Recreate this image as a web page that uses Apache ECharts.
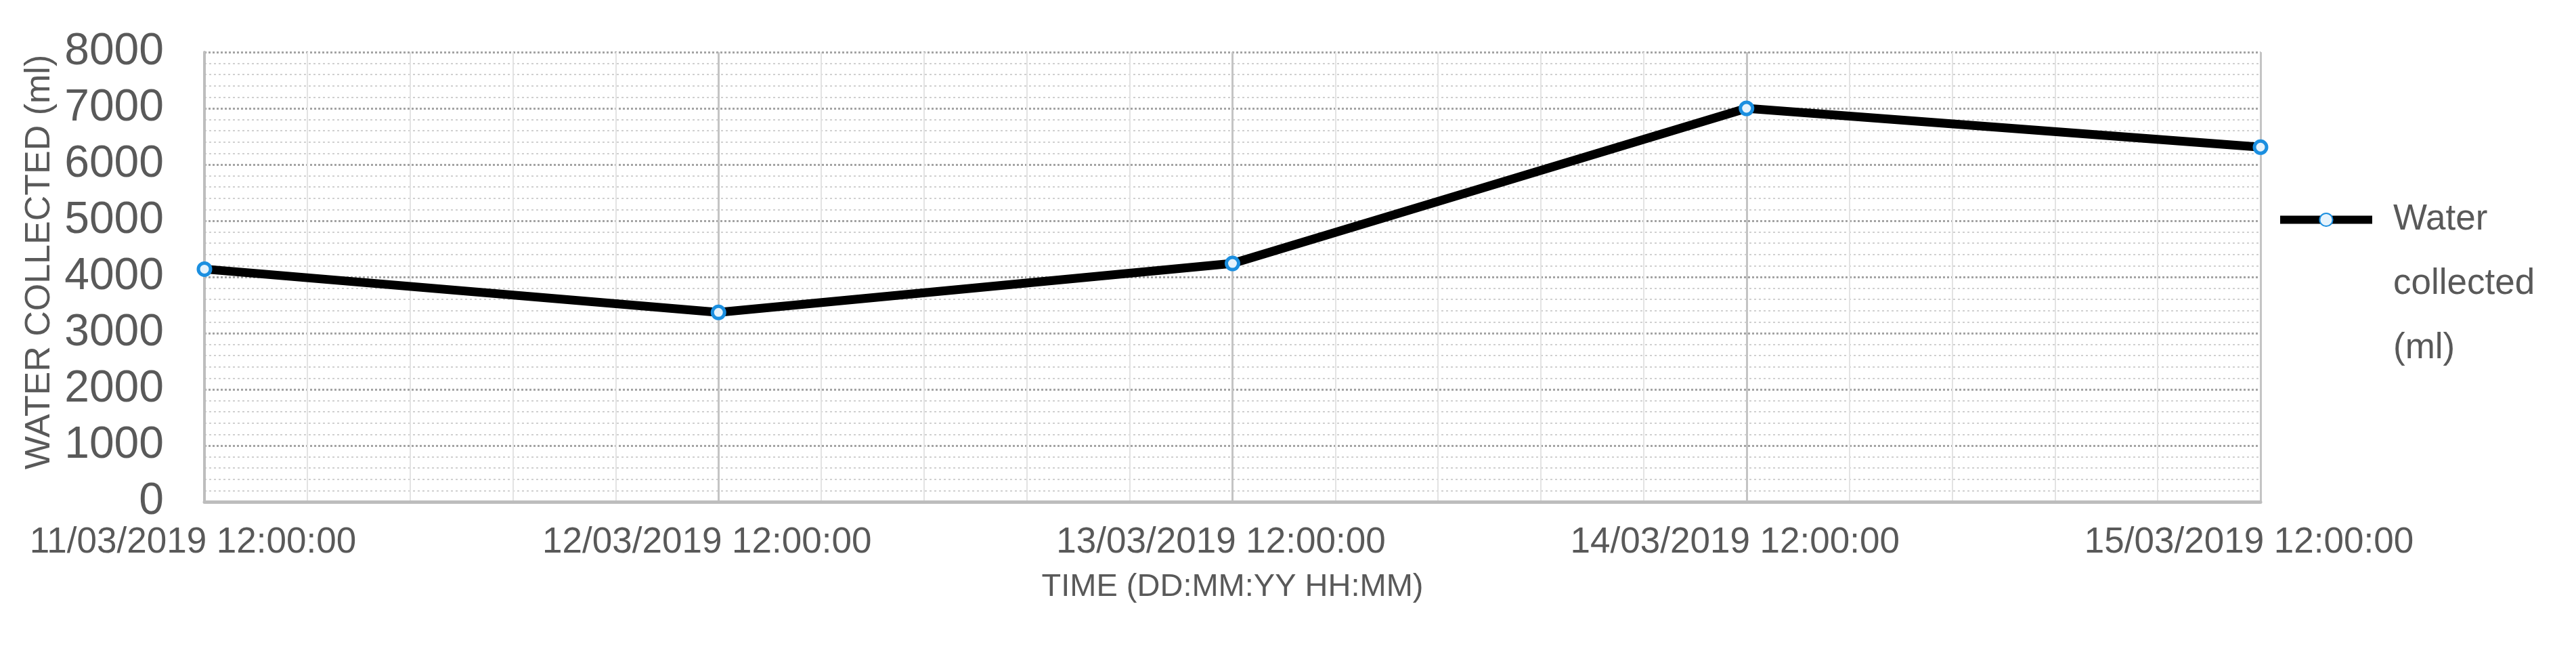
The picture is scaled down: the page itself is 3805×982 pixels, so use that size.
<!DOCTYPE html>
<html>
<head>
<meta charset="utf-8">
<script src="https://cdn.jsdelivr.net/npm/echarts@6/dist/echarts.min.js"></script>
<style>
  html, body { margin: 0; padding: 0; background: #fff; }
  #chart { width: 3805px; height: 982px; }
</style>
</head>
<body>
<div id="chart"></div>
<script>
const times = [
  '11/03/2019 12:00:00',
  '12/03/2019 12:00:00',
  '13/03/2019 12:00:00',
  '14/03/2019 12:00:00',
  '15/03/2019 12:00:00'
]
const waterCollected = [4140, 3370, 4240, 7000, 6310]
const seriesName = 'Water collected (ml)'
const legendLines = ['Water', 'collected', '(ml)']

const textColor = '#595959'
const font = 'Liberation Sans'

const chart = echarts.init(document.getElementById('chart'))
chart.setOption({
  animation: false,
  grid: { left: 302, right: 466, top: 77, bottom: 241, containLabel: false },
  legend: {
    left: 3357,
    top: 82,
    orient: 'vertical',
    itemWidth: 136,
    itemHeight: 24,
    // two blank lines first so "Water" sits level with the icon
    formatter: () => '\n\n' + legendLines.map((s) => `{t|${s}}`).join('\n'),
    lineStyle: { color: '#000', width: 12 },
    textStyle: {
      color: textColor,
      fontFamily: font,
      fontSize: 53,
      lineHeight: 95,
      rich: { t: { fontFamily: font, fontSize: 53, color: textColor, lineHeight: 95, padding: [0, 0, 0, 26] } }
    },
    data: [seriesName]
  },
  xAxis: [
    {
      type: 'category',
      data: times,
      boundaryGap: false,
      name: 'TIME (DD:MM:YY HH:MM)',
      nameLocation: 'middle',
      nameGap: 103,
      nameTextStyle: { color: textColor, fontFamily: font, fontSize: 47 },
      axisLine: { lineStyle: { color: '#bdbdbd', width: 5 } },
      axisTick: { show: false },
      axisLabel: {
        color: textColor,
        fontFamily: font,
        fontSize: 53,
        margin: 34,
        padding: [0, 34, 0, 0]
      },
      splitLine: { show: true, lineStyle: { color: '#c4c4c4', width: 3 } }
    },
    {
      // hidden helper axis, only for the thin vertical minor lines
      type: 'value',
      min: 0,
      max: times.length - 1,
      interval: 1,
      position: 'bottom',
      axisLine: { show: false },
      axisTick: { show: false },
      axisLabel: { show: false },
      splitLine: { show: false },
      minorTick: { show: false, splitNumber: 5 },
      minorSplitLine: { show: true, lineStyle: { color: '#e3e3e3', width: 2 } }
    }
  ],
  yAxis: {
    type: 'value',
    min: 0,
    max: 8000,
    interval: 1000,
    name: 'WATER COLLECTED (ml)',
    nameLocation: 'middle',
    nameGap: 164,
    nameTextStyle: { color: textColor, fontFamily: font, fontSize: 52, padding: [0, 0, 0, 44] },
    axisLine: { show: true, lineStyle: { color: '#bdbdbd', width: 4 } },
    axisTick: { show: false },
    axisLabel: {
      color: textColor,
      fontFamily: font,
      fontSize: 66,
      margin: 60,
      formatter: (v) => String(v)
    },
    splitLine: { lineStyle: { color: '#a4a4a4', width: 3, type: [3, 3] } },
    minorTick: { show: false, splitNumber: 5 },
    minorSplitLine: { show: true, lineStyle: { color: '#d0d0d0', width: 2, type: [3, 4] } }
  },
  series: [
    {
      name: seriesName,
      type: 'line',
      data: waterCollected,
      z: 5,
      symbol: 'circle',
      symbolSize: 18,
      lineStyle: { color: '#000', width: 13 },
      itemStyle: { color: '#e6f3fc', borderColor: '#1b8fe0', borderWidth: 5 }
    }
  ]
})
</script>
</body>
</html>
